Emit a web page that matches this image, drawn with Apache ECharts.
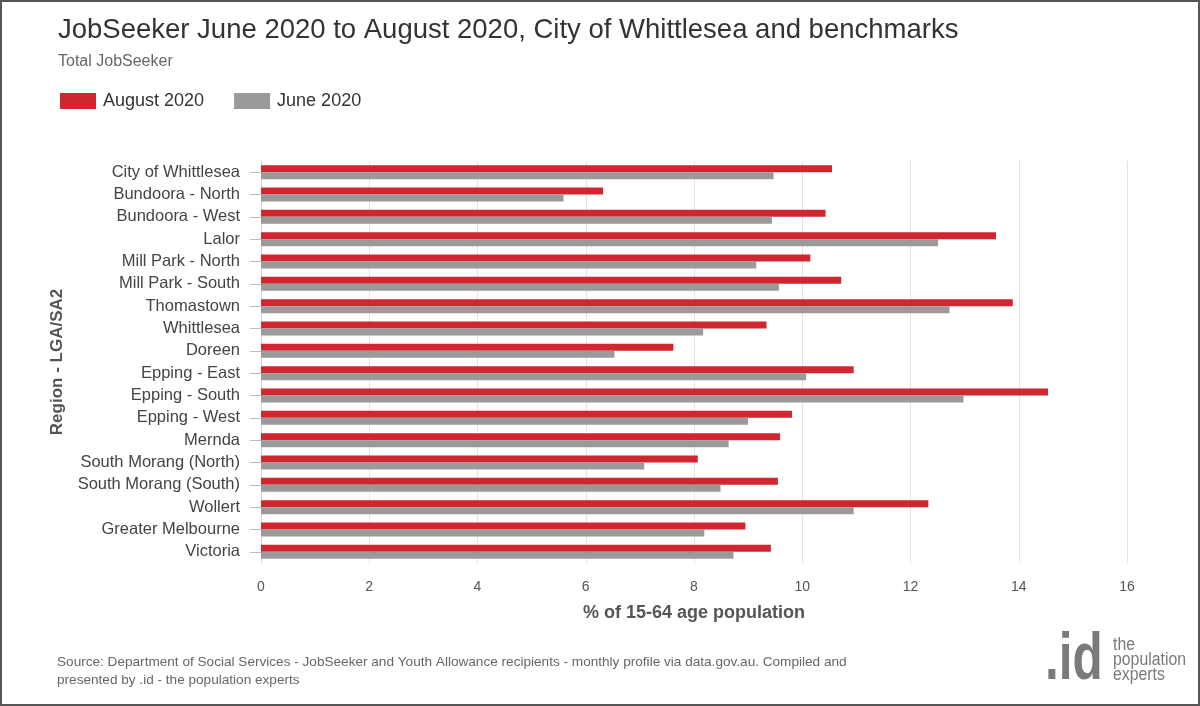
<!DOCTYPE html>
<html>
<head>
<meta charset="utf-8">
<script src="https://cdn.jsdelivr.net/npm/echarts@6/dist/echarts.min.js"></script>
<style>
  html, body { margin: 0; padding: 0; background: #fff; }
  #main { width: 1200px; height: 706px; box-sizing: border-box; border: 2px solid #555; }
</style>
</head>
<body>
<div id="main"></div>
<script>
;(function () {
    'use strict';

    var regions = ['City of Whittlesea', 'Bundoora - North', 'Bundoora - West', 'Lalor',
        'Mill Park - North', 'Mill Park - South', 'Thomastown', 'Whittlesea', 'Doreen',
        'Epping - East', 'Epping - South', 'Epping - West', 'Mernda', 'South Morang (North)',
        'South Morang (South)', 'Wollert', 'Greater Melbourne', 'Victoria'];
    var august2020 = [10.55, 6.32, 10.43, 13.58, 10.15, 10.72, 13.89, 9.34, 7.62,
        10.95, 14.54, 9.81, 9.59, 8.07, 9.55, 12.33, 8.95, 9.42];
    var june2020 = [9.47, 5.59, 9.44, 12.51, 9.15, 9.57, 12.72, 8.17, 6.53,
        10.07, 12.98, 9.00, 8.64, 7.08, 8.49, 10.95, 8.19, 8.73];
    var xTicks = [0, 2, 4, 6, 8, 10, 12, 14, 16];

    var font = 'Arial, "Liberation Sans", sans-serif';
    var chart = echarts.init(document.getElementById('main'));

    chart.setOption({
        backgroundColor: '#fff',
        animation: false,
        textStyle: { fontFamily: font },
        title: {
            text: 'JobSeeker June 2020 to August 2020, City of Whittlesea and benchmarks',
            subtext: 'Total JobSeeker',
            left: 51, top: 9,
            itemGap: 10,
            textStyle: { fontSize: 27.5, fontWeight: 'normal', color: '#333', fontFamily: font },
            subtextStyle: { fontSize: 16, color: '#666', fontFamily: font }
        },
        legend: {
            left: 53, top: 85,
            itemWidth: 36, itemHeight: 16, itemGap: 30,
            icon: 'rect',
            textStyle: { fontSize: 18, color: '#333', fontFamily: font, padding: [0, 0, 0, 2] },
            data: ['August 2020', 'June 2020']
        },
        grid: { left: 259, right: 71, top: 159, bottom: 141 },
        xAxis: {
            type: 'value',
            min: xTicks[0], max: xTicks[xTicks.length - 1], interval: 2,
            name: '% of 15-64 age population',
            nameLocation: 'middle', nameGap: 41,
            nameTextStyle: { fontSize: 18, fontWeight: 'bold', color: '#555', fontFamily: font },
            axisLine: { show: false },
            axisTick: { show: false },
            axisLabel: { fontSize: 14, color: '#555', margin: 17 },
            splitLine: { lineStyle: { color: '#e3e3e3' } }
        },
        yAxis: {
            type: 'category',
            inverse: true,
            data: regions,
            name: 'Region - LGA/SA2',
            nameLocation: 'middle', nameGap: 195, nameRotate: 90,
            nameTextStyle: { fontSize: 17, fontWeight: 'bold', color: '#555', fontFamily: font },
            axisLine: { show: true, lineStyle: { color: '#ccd6eb' } },
            axisTick: { show: true, alignWithLabel: true, length: 11, lineStyle: { color: '#bbb' } },
            axisLabel: { fontSize: 16.5, color: '#444', margin: 21 }
        },
        series: [
            {
                name: 'August 2020', type: 'bar', data: august2020,
                barWidth: 7, barGap: '0%',
                itemStyle: { color: '#d0262f' }
            },
            {
                name: 'June 2020', type: 'bar', data: june2020,
                barWidth: 7, barGap: '0%',
                itemStyle: { color: '#9a9a9a' }
            }
        ],
        graphic: [
            {
                type: 'text', left: 55, top: 651,
                style: {
                    text: 'Source: Department of Social Services - JobSeeker and Youth Allowance recipients - monthly profile via data.gov.au. Compiled and\npresented by .id - the population experts',
                    font: '13.6px ' + font, fill: '#666', lineHeight: 18
                }
            },
            {
                type: 'text', x: 1043, y: 626, scaleX: 0.75,
                style: { text: '.id', font: 'bold 66px ' + font, fill: '#7a7a7a' }
            },
            {
                type: 'text', x: 1111, y: 636, scaleX: 0.88,
                style: {
                    text: 'the\npopulation\nexperts',
                    font: '18px ' + font, fill: '#7a7a7a', lineHeight: 15
                }
            }
        ]
    });
})();
</script>
</body>
</html>
